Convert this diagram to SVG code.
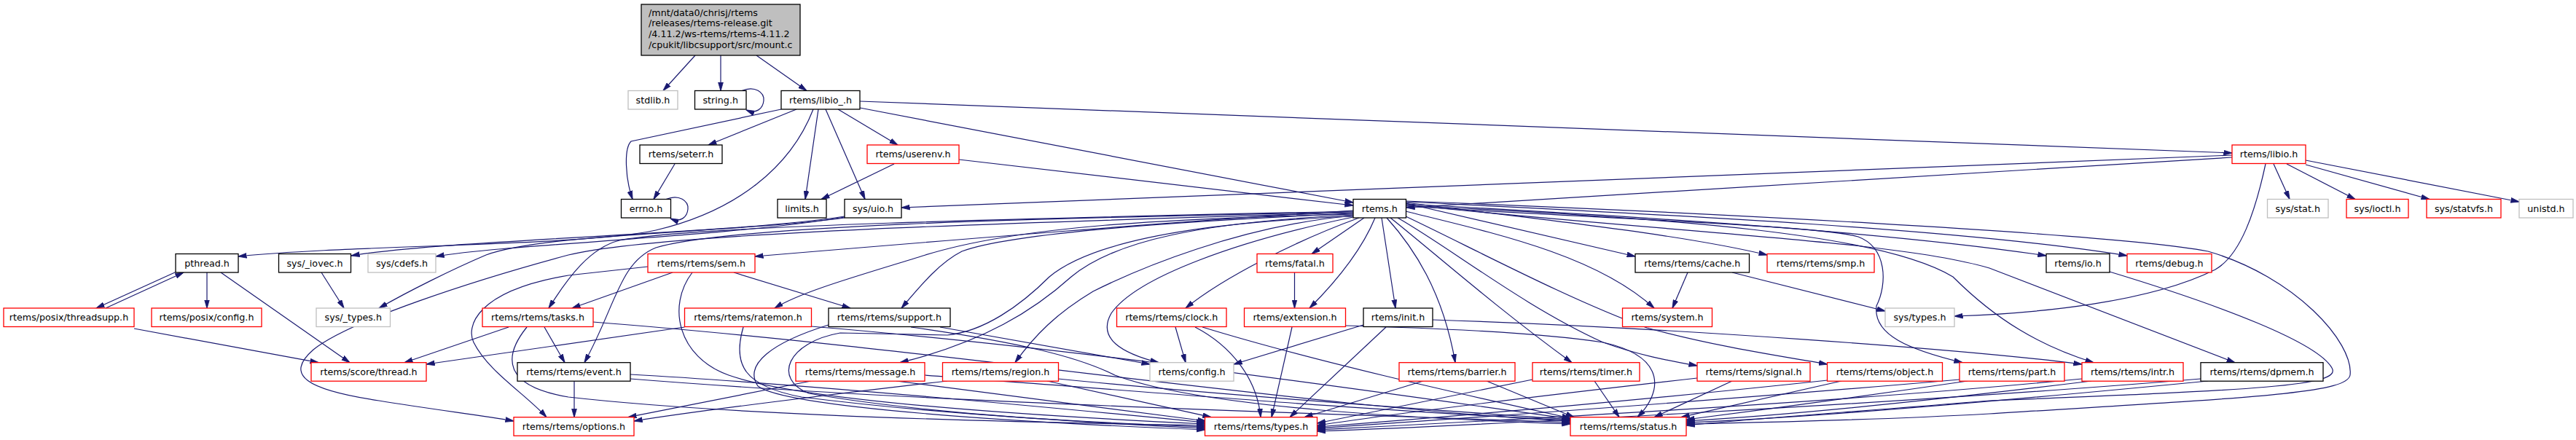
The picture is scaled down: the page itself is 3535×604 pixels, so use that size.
<svg xmlns="http://www.w3.org/2000/svg" width="3535" height="604" viewBox="0 0 3535 604">
<style>
.n rect{fill:#fff;stroke-width:1.3}
.b rect{stroke:#000}
.r rect{stroke:#ff0000}
.g rect{stroke:#bfbfbf}
text{font-family:"DejaVu Sans","Liberation Sans",sans-serif;font-size:12.7px;fill:#000;text-anchor:middle}
#edges path{fill:none;stroke:#191970;stroke-width:1.2;marker-end:url(#a)}
</style>
<defs>
<marker id="a" viewBox="0 0 12 8" refX="11.5" refY="4" markerWidth="12" markerHeight="8" markerUnits="userSpaceOnUse" orient="auto">
<path d="M0,0.6 L12,4 L0,7.4 z" fill="#191970" stroke="#191970" stroke-width="0.8"/>
</marker>
</defs>
<rect width="3535" height="604" fill="#fff"/>
<g id="edges">
<path d="M954,76 L910,124.5"/>
<path d="M989,76 L989,124.5"/>
<path d="M1038,76 L1107,124.5"/>
<path d="M1018,124.5 C1036,117 1049,127 1048,138 C1047,149 1038,157 1024,151"/>
<path d="M914,273.5 C932,266 945,276 944,287 C943,298 934,306 920,300"/>
<path d="M1072,150 L866,194 C856,204 858,245 868,273.5"/>
<path d="M1093,150 L972,199"/>
<path d="M1116,150 C1085,230 1010,290 900,316 C800,338 480,336 327,352"/>
<path d="M1123,150 L1105,273.5"/>
<path d="M1133,150 L1187,273.5"/>
<path d="M1150,150 L1232,199"/>
<path d="M1180,139 L3063,210"/>
<path d="M1180,148 L1857,278"/>
<path d="M926,225 L897,273.5"/>
<path d="M1227,225 L1127,273.5"/>
<path d="M1316,219 L1857,282"/>
<path d="M3063,216 L1930,285"/>
<path d="M3063,213 L1237,285"/>
<path d="M3120,225 L3142,273.5"/>
<path d="M3138,225 L3232,273.5"/>
<path d="M3164,226 L3334,273.5"/>
<path d="M3164,220 L3457,277"/>
<path d="M3109,225 C3095,290 3075,350 3040,370 C2950,415 2800,430 2682,434"/>
<path d="M1159,297 C1000,322 620,328 482,351"/>
<path d="M1159,298 C1000,325 700,335 598,352"/>
<path d="M1159,299 C1000,320 750,320 667,350 C620,370 560,400 520,423"/>
<path d="M441,374 L472,423"/>
<path d="M241,373.5 L132,423"/>
<path d="M145,423 L252,374"/>
<path d="M284,374 L284,423"/>
<path d="M303,374 L480,497.7"/>
<path d="M184,451 L437,497.7"/>
<path d="M1857,289 C1600,305 1300,330 1036,352"/>
<path d="M1857,290 C1400,300 950,310 850,330 C810,340 780,380 753,423"/>
<path d="M1857,291 C1400,300 1000,310 900,340 C850,360 845,420 802,497.7"/>
<path d="M1857,292 C1400,305 900,320 780,350 C650,385 480,440 430,480 C390,515 420,535 520,550 C600,563 660,570 705,578"/>
<path d="M889,366 L780,378 C650,400 640,450 650,470 C670,510 720,540 750,572.7"/>
<path d="M923,374 L785,423"/>
<path d="M1007,374 L1167,423"/>
<path d="M950,374 C915,420 930,490 1000,515 C1100,550 1400,570 1653.5,582"/>
<path d="M1857,294 C1600,300 1400,310 1270,350 C1180,378 1100,400 1063,423"/>
<path d="M1857,293 C1700,300 1400,315 1320,345 C1290,360 1265,390 1237,423"/>
<path d="M1857,295 C1650,305 1530,330 1470,380 C1420,425 1350,470 1235,497.7"/>
<path d="M1857,296 C1700,310 1560,370 1500,400 C1450,430 1420,460 1393,497.7"/>
<path d="M1857,297 C1650,305 1500,330 1440,380 C1400,420 1350,455 1300,460 L1153,457 C1080,470 1060,520 1110,540 C1250,565 1450,578 1653.5,588"/>
<path d="M1865,299 C1780,330 1680,380 1627,423"/>
<path d="M1857,298 C1700,330 1560,380 1525,430 C1505,465 1540,485 1590,497.7"/>
<path d="M1872,299 L1800,348.5"/>
<path d="M1887,299 C1870,340 1840,380 1797,423"/>
<path d="M1896,299 L1915,423"/>
<path d="M1903,299 C1940,340 1980,400 1997,497.7"/>
<path d="M1908,299 C1960,340 2050,420 2157,497.7"/>
<path d="M1918,299 C1990,340 2090,420 2200,470 C2250,488 2290,495 2329,502"/>
<path d="M1929,297 C2020,340 2150,410 2260,450 C2350,475 2450,490 2507.5,500"/>
<path d="M1929,279 L2244,352"/>
<path d="M1929,278 C2100,300 2300,320 2425,350"/>
<path d="M1929,290 C2050,320 2190,350 2270,423"/>
<path d="M1929,283 C2200,300 2500,310 2550,325 C2590,340 2590,390 2575,420 C2570,460 2620,480 2693,497.7"/>
<path d="M1929,282 C2300,300 2580,320 2680,380 C2740,440 2800,475 2873,497.7"/>
<path d="M1929,281 C2300,320 2600,330 2730,368 L3067,497.7"/>
<path d="M1929,280 C2300,300 2600,320 2808,351"/>
<path d="M1929,277 C2300,295 2700,315 2919,351"/>
<path d="M1929,276 C2300,290 2900,320 3030,345 C3150,380 3230,470 3225,515 C3220,540 3100,545 2730,568 C2550,578 2400,580 2314,582"/>
<path d="M698,449 L555,497.7"/>
<path d="M747,449 L775,497.7"/>
<path d="M723,449 C690,490 690,530 780,545 C1000,570 1400,580 1653.5,584"/>
<path d="M814,442 C1300,480 1800,560 2155,578"/>
<path d="M788,523 L788,572.7"/>
<path d="M865,514 C1100,527 1450,560 1653.5,580"/>
<path d="M865,520 C1300,555 1900,570 2155,580"/>
<path d="M1113,523 L862,572.7"/>
<path d="M1230,523 L1655,578"/>
<path d="M1269,515 C1600,540 1900,565 2155,577"/>
<path d="M1300,523 C1150,540 950,565 870,578"/>
<path d="M1437,523 L1662,572.7"/>
<path d="M1452,520 C1700,545 2000,565 2155,576"/>
<path d="M939.5,449 L585,500"/>
<path d="M1020,449 C1005,500 1020,530 1100,545 C1300,570 1500,580 1653.5,586"/>
<path d="M1113,448 C1500,480 1900,540 2155,575"/>
<path d="M1290,449 L1578,500"/>
<path d="M1137,446 C1060,470 1020,500 1040,530 C1080,560 1400,580 1653.5,590"/>
<path d="M1250,449 C1400,470 1480,490 1530,515 C1650,560 1950,575 2155,582"/>
<path d="M1613,449 L1627,497.7"/>
<path d="M1640,449 C1690,475 1725,520 1730,572.7"/>
<path d="M1650,449 C1800,495 2000,540 2155,574"/>
<path d="M1776.5,374 L1776.5,423"/>
<path d="M1773,449 L1745,572.7"/>
<path d="M1847,447 C1950,450 2100,455 2200,470 C2290,490 2280,540 2247,572.7"/>
<path d="M1871,446 L1693,500"/>
<path d="M1902,449 L1770,572.7"/>
<path d="M1966,439 C2300,450 2700,480 2857,500"/>
<path d="M1953,523 L1790,572.7"/>
<path d="M2040,523 L2160,572.7"/>
<path d="M2103,521 L1807.5,581"/>
<path d="M2188,523 L2222,572.7"/>
<path d="M2329,519 C2100,545 1900,570 1807.5,584"/>
<path d="M2377,523 L2270,572.7"/>
<path d="M2508,522 C2200,555 1950,575 1807.5,586"/>
<path d="M2527,523 L2307,572.7"/>
<path d="M2689,521 C2300,555 1950,578 1807.5,588"/>
<path d="M2700,523 C2550,545 2400,565 2314,576"/>
<path d="M2857,520 C2500,555 2000,580 1807.5,590"/>
<path d="M2870,523 C2650,550 2450,570 2314,578"/>
<path d="M3020,520 C2600,555 2000,585 1807.5,592"/>
<path d="M3030,523 C2700,555 2450,575 2314,580"/>
<path d="M2895,373 C3050,420 3180,470 3200,505 C3215,530 3100,535 2730,550 C2550,565 2400,575 2314,584"/>
<path d="M2316,374 L2295,423"/>
<path d="M2377,374 L2587,427"/>
</g>
<g id="n_main" class="n b"><rect x="880" y="6" width="218" height="70" style="fill:#bfbfbf"/>
<text x="890" y="21.5" style="text-anchor:start">/mnt/data0/chrisj/rtems</text>
<text x="890" y="36.3" style="text-anchor:start">/releases/rtems-release.git</text>
<text x="890" y="51" style="text-anchor:start">/4.11.2/ws-rtems/rtems-4.11.2</text>
<text x="890" y="65.8" style="text-anchor:start">/cpukit/libcsupport/src/mount.c</text></g>
<g id="n_stdlib" class="n g"><rect x="862" y="124.5" width="68" height="25.5"/><text x="896" y="141.8">stdlib.h</text></g>
<g id="n_string" class="n b"><rect x="953.5" y="124.5" width="70.5" height="25.5"/><text x="988.75" y="141.8">string.h</text></g>
<g id="n_libio_" class="n b"><rect x="1072" y="124.5" width="108" height="25.5"/><text x="1126" y="141.8">rtems/libio_.h</text></g>
<g id="n_seterr" class="n b"><rect x="878" y="199" width="113" height="25.5"/><text x="934.5" y="216.3">rtems/seterr.h</text></g>
<g id="n_userenv" class="n r"><rect x="1190" y="199" width="126" height="25.5"/><text x="1253" y="216.3">rtems/userenv.h</text></g>
<g id="n_libio" class="n r"><rect x="3063" y="199" width="101" height="25.5"/><text x="3113.5" y="216.3">rtems/libio.h</text></g>
<g id="n_errno" class="n b"><rect x="852.5" y="273.5" width="68" height="25.5"/><text x="886.5" y="290.8">errno.h</text></g>
<g id="n_limits" class="n b"><rect x="1067" y="273.5" width="67" height="25.5"/><text x="1100.5" y="290.8">limits.h</text></g>
<g id="n_uio" class="n b"><rect x="1159" y="273.5" width="78" height="25.5"/><text x="1198" y="290.8">sys/uio.h</text></g>
<g id="n_rtems" class="n b"><rect x="1857" y="273.5" width="72.5" height="25.5"/><text x="1893.25" y="290.8">rtems.h</text></g>
<g id="n_sysstat" class="n g"><rect x="3111.5" y="273.5" width="83.5" height="25.5"/><text x="3153.25" y="290.8">sys/stat.h</text></g>
<g id="n_ioctl" class="n r"><rect x="3220" y="273.5" width="85" height="25.5"/><text x="3262.5" y="290.8">sys/ioctl.h</text></g>
<g id="n_statvfs" class="n r"><rect x="3330" y="273.5" width="102" height="25.5"/><text x="3381" y="290.8">sys/statvfs.h</text></g>
<g id="n_unistd" class="n g"><rect x="3457" y="273.5" width="74" height="25.5"/><text x="3494" y="290.8">unistd.h</text></g>
<g id="n_pthread" class="n b"><rect x="241" y="348.5" width="86" height="25.5"/><text x="284" y="365.8">pthread.h</text></g>
<g id="n_iovec" class="n b"><rect x="382.5" y="348.5" width="99" height="25.5"/><text x="432" y="365.8">sys/_iovec.h</text></g>
<g id="n_cdefs" class="n g"><rect x="505" y="348.5" width="93" height="25.5"/><text x="551.5" y="365.8">sys/cdefs.h</text></g>
<g id="n_sem" class="n r"><rect x="889" y="348.5" width="147" height="25.5"/><text x="962.5" y="365.8">rtems/rtems/sem.h</text></g>
<g id="n_fatal" class="n r"><rect x="1725" y="348.5" width="104" height="25.5"/><text x="1777" y="365.8">rtems/fatal.h</text></g>
<g id="n_cache" class="n b"><rect x="2244" y="348.5" width="156.5" height="25.5"/><text x="2322.25" y="365.8">rtems/rtems/cache.h</text></g>
<g id="n_smp" class="n r"><rect x="2425" y="348.5" width="147" height="25.5"/><text x="2498.5" y="365.8">rtems/rtems/smp.h</text></g>
<g id="n_io" class="n b"><rect x="2808" y="348.5" width="87" height="25.5"/><text x="2851.5" y="365.8">rtems/io.h</text></g>
<g id="n_debug" class="n r"><rect x="2919" y="348.5" width="116" height="25.5"/><text x="2977" y="365.8">rtems/debug.h</text></g>
<g id="n_threadsupp" class="n r"><rect x="5" y="423" width="179" height="25.5"/><text x="94.5" y="440.3">rtems/posix/threadsupp.h</text></g>
<g id="n_pconfig" class="n r"><rect x="208" y="423" width="151" height="25.5"/><text x="283.5" y="440.3">rtems/posix/config.h</text></g>
<g id="n_systypes_" class="n g"><rect x="434" y="423" width="101.5" height="25.5"/><text x="484.75" y="440.3">sys/_types.h</text></g>
<g id="n_tasks" class="n r"><rect x="662" y="423" width="152" height="25.5"/><text x="738" y="440.3">rtems/rtems/tasks.h</text></g>
<g id="n_ratemon" class="n r"><rect x="939.5" y="423" width="174" height="25.5"/><text x="1026.5" y="440.3">rtems/rtems/ratemon.h</text></g>
<g id="n_support" class="n b"><rect x="1137" y="423" width="167" height="25.5"/><text x="1220.5" y="440.3">rtems/rtems/support.h</text></g>
<g id="n_clock" class="n r"><rect x="1532.5" y="423" width="150.5" height="25.5"/><text x="1607.75" y="440.3">rtems/rtems/clock.h</text></g>
<g id="n_extension" class="n r"><rect x="1707.5" y="423" width="139" height="25.5"/><text x="1777" y="440.3">rtems/extension.h</text></g>
<g id="n_init" class="n b"><rect x="1871" y="423" width="95" height="25.5"/><text x="1918.5" y="440.3">rtems/init.h</text></g>
<g id="n_system" class="n r"><rect x="2226.5" y="423" width="123" height="25.5"/><text x="2288" y="440.3">rtems/system.h</text></g>
<g id="n_systypes" class="n g"><rect x="2587" y="423" width="95" height="25.5"/><text x="2634.5" y="440.3">sys/types.h</text></g>
<g id="n_sthread" class="n r"><rect x="427" y="497.7" width="158" height="25.5"/><text x="506" y="515">rtems/score/thread.h</text></g>
<g id="n_event" class="n b"><rect x="710" y="497.7" width="155" height="25.5"/><text x="787.5" y="515">rtems/rtems/event.h</text></g>
<g id="n_message" class="n r"><rect x="1092" y="497.7" width="177" height="25.5"/><text x="1180.5" y="515">rtems/rtems/message.h</text></g>
<g id="n_region" class="n r"><rect x="1293.5" y="497.7" width="159" height="25.5"/><text x="1373" y="515">rtems/rtems/region.h</text></g>
<g id="n_config" class="n g"><rect x="1578" y="497.7" width="115" height="25.5"/><text x="1635.5" y="515">rtems/config.h</text></g>
<g id="n_barrier" class="n r"><rect x="1920" y="497.7" width="159" height="25.5"/><text x="1999.5" y="515">rtems/rtems/barrier.h</text></g>
<g id="n_timer" class="n r"><rect x="2103" y="497.7" width="147" height="25.5"/><text x="2176.5" y="515">rtems/rtems/timer.h</text></g>
<g id="n_signal" class="n r"><rect x="2329" y="497.7" width="155" height="25.5"/><text x="2406.5" y="515">rtems/rtems/signal.h</text></g>
<g id="n_object" class="n r"><rect x="2507.5" y="497.7" width="158" height="25.5"/><text x="2586.5" y="515">rtems/rtems/object.h</text></g>
<g id="n_part" class="n r"><rect x="2689" y="497.7" width="144" height="25.5"/><text x="2761" y="515">rtems/rtems/part.h</text></g>
<g id="n_intr" class="n r"><rect x="2857" y="497.7" width="139" height="25.5"/><text x="2926.5" y="515">rtems/rtems/intr.h</text></g>
<g id="n_dpmem" class="n b"><rect x="3020" y="497.7" width="168" height="25.5"/><text x="3104" y="515">rtems/rtems/dpmem.h</text></g>
<g id="n_options" class="n r"><rect x="705" y="572.7" width="165" height="25.5"/><text x="787.5" y="590">rtems/rtems/options.h</text></g>
<g id="n_types" class="n r"><rect x="1653.5" y="572.7" width="154" height="25.5"/><text x="1730.5" y="590">rtems/rtems/types.h</text></g>
<g id="n_status" class="n r"><rect x="2155" y="572.7" width="159" height="25.5"/><text x="2234.5" y="590">rtems/rtems/status.h</text></g>
</svg>
